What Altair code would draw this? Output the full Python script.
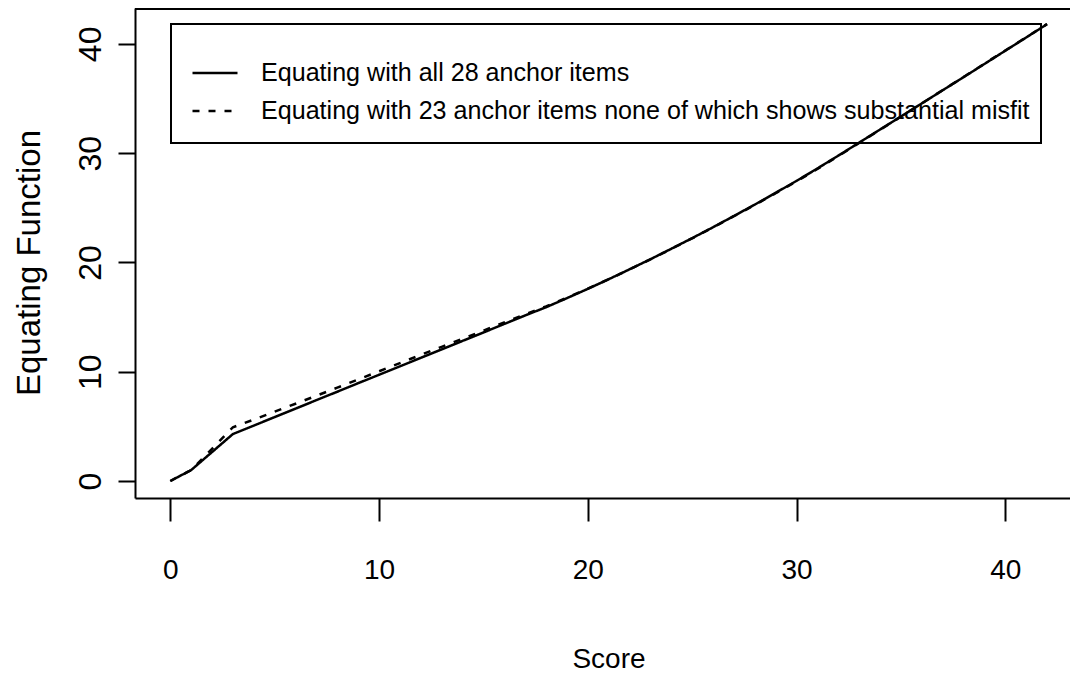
import altair as alt
import pandas as pd

scores = list(range(43))
eq_all28 = [0.00, 1.00, 2.65, 4.30, 5.07, 5.85, 6.62, 7.40, 8.17, 8.95,
            9.72, 10.49, 11.27, 12.04, 12.82, 13.59, 14.37, 15.15, 15.90, 16.73,
            17.58, 18.46, 19.37, 20.29, 21.25, 22.22, 23.22, 24.25, 25.29, 26.37,
            27.46, 28.60, 29.77, 30.96, 32.16, 33.35, 34.55, 35.75, 36.95, 38.16,
            39.37, 40.58, 41.80]
eq_23 = [0.00, 1.00, 2.95, 4.92, 5.62, 6.35, 7.07, 7.80, 8.54, 9.29,
         10.04, 10.79, 11.54, 12.28, 13.02, 13.76, 14.51, 15.25, 15.97, 16.77,
         17.60, 18.46, 19.36, 20.28, 21.24, 22.21, 23.21, 24.23, 25.26, 26.33,
         27.42, 28.55, 29.73, 30.93, 32.14, 33.34, 34.55, 35.76, 36.97, 38.18,
         39.39, 40.60, 41.82]
series_names = ["Equating with all 28 anchor items",
                "Equating with 23 anchor items none of which shows substantial misfit"]
tick_values = [0, 10, 20, 30, 40]

rows = []
for s, v in zip(scores, eq_all28):
    rows.append({"Score": s, "Value": v, "Series": series_names[0], "k": 0})
for s, v in zip(scores, eq_23):
    rows.append({"Score": s, "Value": v, "Series": series_names[1], "k": 1})
df = pd.DataFrame(rows)

W, H = 935, 490
FONT = "Liberation Sans"

x_scale = alt.Scale(domain=[-1.691, 43.10], nice=False, zero=False)
y_scale = alt.Scale(domain=[-1.555, 43.28], nice=False, zero=False)

lines = alt.Chart(df).mark_line(color="black", strokeWidth=2.5).encode(
    x=alt.X("Score:Q", scale=x_scale,
            axis=alt.Axis(values=tick_values, title="Score", grid=False,
                          domainColor="black", domainWidth=2,
                          tickColor="black", tickWidth=2, tickSize=23,
                          labelFont=FONT, labelFontSize=28, labelColor="black",
                          labelBaseline="alphabetic", labelPadding=57,
                          labelAlign="center",
                          titleFont=FONT, titleFontSize=28, titleColor="black",
                          titleFontWeight="normal", titleX=473.5, titleY=169,
                          titleAlign="center", titleBaseline="alphabetic")),
    y=alt.Y("Value:Q", scale=y_scale,
            axis=alt.Axis(values=tick_values, title="Equating Function", grid=False,
                          domainColor="black", domainWidth=2,
                          tickColor="black", tickWidth=2, tickSize=17,
                          labelFont=FONT, labelFontSize=32,
                          labelColor="black", labelAngle=-90,
                          labelAlign="center", labelBaseline="alphabetic",
                          labelPadding=18,
                          titleFont=FONT, titleFontSize=33,
                          titleColor="black", titleFontWeight="normal",
                          titleAngle=270, titleX=-96, titleY=254.5,
                          titleAlign="center", titleBaseline="alphabetic")),
    strokeDash=alt.StrokeDash("Series:N",
                              scale=alt.Scale(domain=series_names,
                                              range=[[1, 0], [7, 9]]),
                              legend=alt.Legend(title=None)),
    order=alt.Order("k:Q"),
)

frame = pd.DataFrame({"k": [0]})
top_line = alt.Chart(frame).mark_rule(color="black", strokeWidth=2).encode(
    x=alt.value(0), x2=alt.value(W), y=alt.value(1)
)
legend_box = alt.Chart(frame).mark_rect(
    fill="white", fillOpacity=0, stroke="black", strokeWidth=2
).encode(
    x=alt.value(36), x2=alt.value(906), y=alt.value(16), y2=alt.value(135)
)

chart = alt.layer(lines, top_line, legend_box).properties(
    width=W, height=H,
    background="white",
    autosize=alt.AutoSizeParams(type="none"),
    padding={"left": 127, "top": 0, "right": 0, "bottom": 175},
).configure_view(
    stroke=None
).configure_legend(
    orient="none", legendX=56, legendY=41, padding=0,
    symbolType="stroke", symbolSize=2025, symbolStrokeWidth=2.5,
    symbolStrokeColor="black",
    labelFont=FONT, labelFontSize=25.1, labelColor="black",
    labelOffset=22, rowPadding=-8.7, labelLimit=2000,
)

chart.save("out.html", embed_options={"renderer": "svg", "actions": False})
